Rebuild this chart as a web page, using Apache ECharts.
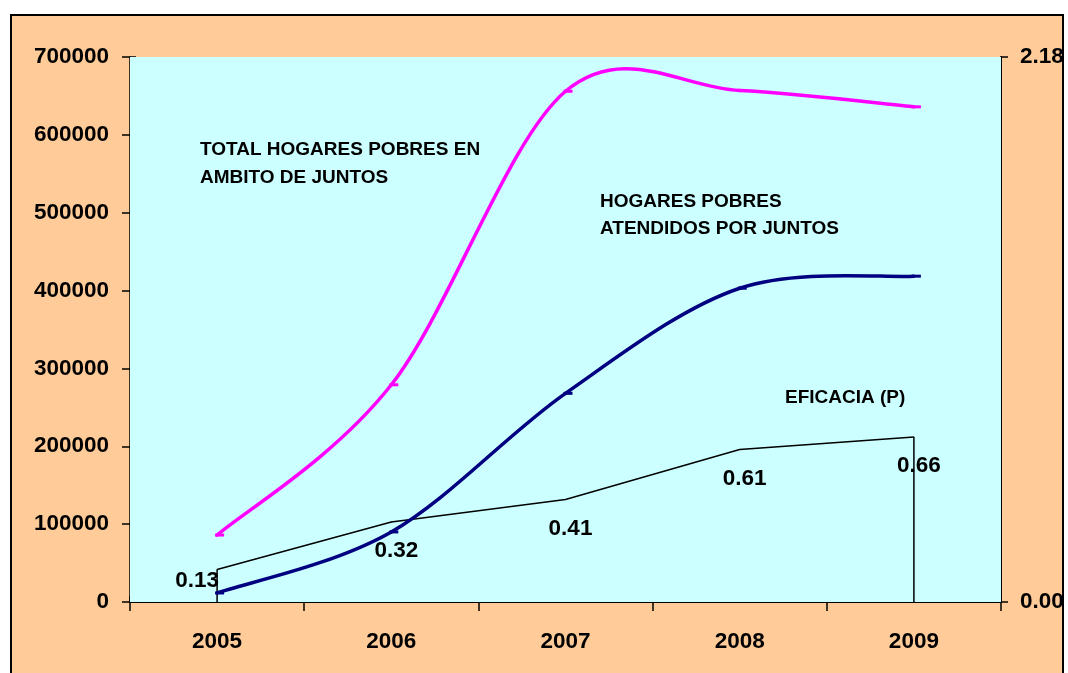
<!DOCTYPE html>
<html>
<head>
<meta charset="utf-8">
<script src="https://cdn.jsdelivr.net/npm/echarts@6/dist/echarts.min.js"></script>
<style>
  html, body { margin: 0; padding: 0; background: #ffffff; }
  #chart { width: 1068px; height: 673px; }
</style>
</head>
<body>
<div id="chart"></div>
<script>
// Years on the horizontal axis
const years = ['2005', '2006', '2007', '2008', '2009'];
// Total poor households within the JUNTOS area
const totalHogares = [86000, 279000, 656000, 657000, 636000];
// Poor households served by JUNTOS
const atendidos = [11600, 90000, 268000, 403000, 418500];
// Efficacy ratio (right axis)
const eficacia = [0.13, 0.32, 0.41, 0.61, 0.66];
// Left axis range
const leftMax = 700000;
const leftStep = 100000;
// Right axis range
const rightMax = 2.18;

const FONT = '"Liberation Sans", Arial, sans-serif';
const chart = echarts.init(document.getElementById('chart'), null, { renderer: 'canvas' });

const lastIdx = eficacia.length - 1;
// Closing vertical edges of the efficacy outline, at the first and last year
const eficaciaEdges = eficacia.map((v, i) => (i === 0 || i === lastIdx) ? v : '-');
const eficaciaData = eficacia.map((v, i) => i === 0
  ? { value: v, label: { offset: [-20, -16] } }
  : { value: v });

const axisLabelStyle = { color: '#000', fontFamily: FONT, fontWeight: 'bold', fontSize: 22.5 };

// Cardinal spline (Catmull-Rom, tension 1/6) drawn segment by segment,
// plus a short dash marker at every data point.
function splineRenderer(color) {
  return function (params, api) {
    const n = params.dataInsideLength;
    const i = params.dataIndexInside;
    const pt = k => {
      k = Math.max(0, Math.min(n - 1, k));
      return api.coord([api.value(0, k), api.value(1, k)]);
    };
    const p0 = pt(i - 1), p1 = pt(i), p2 = pt(i + 1), p3 = pt(i + 2);
    const children = [];
    if (i < n - 1) {
      children.push({
        type: 'bezierCurve',
        shape: {
          x1: p1[0], y1: p1[1], x2: p2[0], y2: p2[1],
          cpx1: p1[0] + (p2[0] - p0[0]) / 6, cpy1: p1[1] + (p2[1] - p0[1]) / 6,
          cpx2: p2[0] - (p3[0] - p1[0]) / 6, cpy2: p2[1] - (p3[1] - p1[1]) / 6
        },
        style: { stroke: color, lineWidth: 3.5, fill: null, lineCap: 'round' }
      });
    }
    children.push({
      type: 'rect',
      shape: { x: p1[0] - 2, y: p1[1] - 1.5, width: 9, height: 3 },
      style: { fill: color }
    });
    return { type: 'group', children };
  };
}

chart.setOption({
  backgroundColor: '#ffffff',
  animation: false,
  grid: {
    left: 130, right: 67, top: 57, bottom: 71,
    show: true, backgroundColor: '#CCFFFF', borderWidth: 0, z: 1
  },
  graphic: [
    {
      type: 'rect', z: -5, silent: true,
      shape: { x: 11, y: 15, width: 1052, height: 672 },
      style: { fill: '#FFCC99', stroke: '#000', lineWidth: 2 }
    },
    {
      type: 'text', z: 100, left: 200, top: 136,
      style: { text: 'TOTAL HOGARES POBRES EN\nAMBITO DE JUNTOS', fill: '#000',
        font: 'bold 19px ' + FONT, lineHeight: 28 }
    },
    {
      type: 'text', z: 100, left: 600, top: 188,
      style: { text: 'HOGARES POBRES\nATENDIDOS POR JUNTOS', fill: '#000',
        font: 'bold 19px ' + FONT, lineHeight: 27 }
    },
    {
      type: 'text', z: 100, left: 785, top: 384,
      style: { text: 'EFICACIA (P)', fill: '#000', font: 'bold 19px ' + FONT, lineHeight: 27 }
    }
  ],
  xAxis: [
    {
      type: 'category', data: years, boundaryGap: true, position: 'bottom',
      axisLine: { show: true, lineStyle: { color: '#000', width: 2 } },
      axisTick: { show: true, inside: false, length: 9, lineStyle: { color: '#000', width: 1.5 } },
      axisLabel: Object.assign({ margin: 28 }, axisLabelStyle),
      splitLine: { show: false }
    },
    {
      type: 'category', data: years, boundaryGap: true, position: 'bottom',
      axisLine: { show: false },
      axisTick: { show: true, inside: true, length: 6, lineStyle: { color: '#000', width: 1.5 } },
      axisLabel: { show: false },
      splitLine: { show: false }
    }
  ],
  yAxis: [
    {
      type: 'value', position: 'left', min: 0, max: leftMax, interval: leftStep,
      axisLine: { show: true, lineStyle: { color: '#000', width: 1.5 } },
      axisTick: { show: true, inside: false, length: 8, lineStyle: { color: '#000', width: 1.5 } },
      axisLabel: Object.assign({ margin: 21, formatter: v => String(v) }, axisLabelStyle),
      splitLine: { show: false }
    },
    {
      type: 'value', position: 'right', min: 0, max: rightMax, interval: rightMax,
      axisLine: { show: true, lineStyle: { color: '#000', width: 2 } },
      axisTick: { show: true, inside: false, length: 7, lineStyle: { color: '#000', width: 1.5 } },
      axisLabel: Object.assign({ margin: 19, formatter: v => v.toFixed(2) }, axisLabelStyle),
      splitLine: { show: false }
    },
    {
      type: 'value', position: 'left', min: 0, max: leftMax, interval: leftStep,
      axisLine: { show: false },
      axisTick: { show: true, inside: true, length: 6, lineStyle: { color: '#000', width: 1.5 } },
      axisLabel: { show: false },
      splitLine: { show: false }
    }
  ],
  series: [
    {
      name: 'EFICACIA (P)', type: 'line', xAxisIndex: 0, yAxisIndex: 1, z: 3,
      data: eficaciaData, smooth: false, showSymbol: true,
      symbol: 'circle', symbolSize: 1, itemStyle: { color: '#000' },
      lineStyle: { color: '#000', width: 1.5 },
      label: {
        show: true, position: 'bottom', distance: 15, offset: [5, 2],
        formatter: p => p.value.toFixed(2),
        color: '#000', fontFamily: FONT, fontWeight: 'bold', fontSize: 22.5
      }
    },
    {
      name: 'bordes', type: 'bar', xAxisIndex: 0, yAxisIndex: 1, z: 3,
      data: eficaciaEdges, barWidth: 1.5, itemStyle: { color: '#000' }
    },
    {
      name: 'HOGARES POBRES ATENDIDOS POR JUNTOS', type: 'custom', xAxisIndex: 0, yAxisIndex: 0, z: 4,
      data: atendidos.map((v, i) => [i, v]),
      renderItem: splineRenderer('#000080')
    },
    {
      name: 'TOTAL HOGARES POBRES EN AMBITO DE JUNTOS', type: 'custom', xAxisIndex: 0, yAxisIndex: 0, z: 5,
      data: totalHogares.map((v, i) => [i, v]),
      renderItem: splineRenderer('#FF00FF')
    }
  ]
});
</script>
</body>
</html>
